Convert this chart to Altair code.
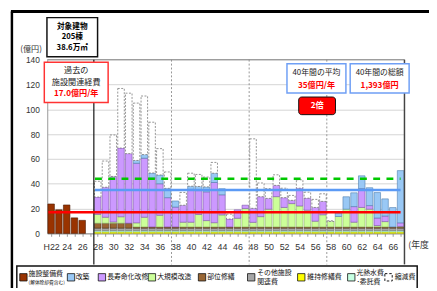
import altair as alt
import pandas as pd

# ---------------- data (億円) ----------------
years = list(range(22, 68))          # H22 .. H67
pad = [0.0] * 6                      # H22..H27 have no projection components

facility = [23.7, 19.0, 22.9, 12.5, 10.5, 0.0] + [0.0] * 40          # 施設整備費
rebuild = pad + [0, 0, 0, 0, 0, 2.3, 2.9, 4.1, 7.1, 7.5,
                 4.9, 0, 2.5, 3.3, 4.0, 7.5, 4.9, 0, 0, 0,
                 0, 0, 0, 0, 0, 0, 0, 0, 0, 0,
                 0, 2.8, 10.0, 11.1, 10.3, 14.4, 20.5, 13.8, 15.6, 42.1]  # 改築
longlife = pad + [14.0, 24.2, 36.7, 55.4, 56.1, 48.0, 47.6, 39.4, 25.4, 23.6,
                  16.0, 13.7, 26.5, 19.3, 23.2, 32.4, 16.2, 6.4, 6.8, 2.7,
                  11.3, 16.1, 8.7, 9.1, 7.9, 2.6, 14.3, 9.7, 11.1, 10.8,
                  0, 0, 0, 12.6, 15.2, 2.9, 6.1, 4.5, 0, 2.9]             # 長寿命化改修
major = pad + [7.1, 4.8, 1.0, 5.2, 0.0, 3.3, 7.8, 0.0, 9.4, 0.0,
               0.0, 3.8, 3.8, 10.0, 5.1, 3.4, 9.7, 0.0, 7.0, 14.8,
               3.7, 8.3, 14.3, 24.4, 15.7, 18.8, 16.9, 13.5, 4.6, 9.8,
               4.4, 8.4, 14.3, 3.8, 15.7, 14.3, 1.1, 4.3, 0.0, 0.4]       # 大規模改造
partial = pad + [4.0] * 5 + [1.0] * 35                                  # 部位修繕
other = pad + [2.0] * 40                                                # その他施設関連費
upkeep = pad + [1.2] * 40                                               # 維持修繕費
utility = pad + [1.0] * 40                                              # 光熱水費・委託費
reduced = pad + [12.7, 21.1, 33.4, 48.0, 48.7, 46.2, 47.2, 40.9, 21.2, 13.2,
                 0, 10.3, 10.5, 9.7, 7.9, 8.7, 0, 3.9, 0, 0,
                 56.0, 11.0, 7.9, 8.5, 7.6, 4.0, 6.8, 4.8, 6.5, 6.1,
                 0.6, 0, 0, 0, 0, 0, 0, 0, 0, 0]                        # 縮減費

series_names = ["維持修繕費", "光熱水費・委託費", "その他施設関連費", "部位修繕",
                "施設整備費", "大規模改造", "長寿命化改修", "改築", "縮減費"]
series_values = [upkeep, utility, other, partial, facility, major, longlife, rebuild, reduced]

ref_names = ["過去の平均", "40年間の平均", "縮減前の平均"]
ref_levels = [17.0, 35.0, 44.0]
ref_start = [22, 28, 28]
ref_end = [67, 67, 67]

period_breaks = [27.5, 37.5, 47.5, 57.5]

# ---------------- styles ----------------
fills = {"施設整備費": "#993300", "改築": "#99c8f5", "長寿命化改修": "#cc99ff",
         "大規模改造": "#ccff99", "部位修繕": "#996633", "その他施設関連費": "#a6a6a6",
         "維持修繕費": "#ffff00", "光熱水費・委託費": "#c6ffe2", "縮減費": "#ffffff"}
strokes = {"施設整備費": "#4d1a00", "改築": "#4f7fae", "長寿命化改修": "#7d55a8",
           "大規模改造": "#8fb36b", "部位修繕": "#4a2f14", "その他施設関連費": "#707070",
           "維持修繕費": "#b3b300", "光熱水費・委託費": "#7cc7a0", "縮減費": "#888888"}

JP = "Noto Sans CJK JP"
NUM = "Liberation Sans"

rows = []
for order, (name, vals) in enumerate(zip(series_names, series_values)):
    for yr, v in zip(years, vals):
        if v > 0:
            rows.append({"year": yr, "series": name, "value": v, "ord": order})
df = pd.DataFrame(rows)

xscale = alt.Scale(domain=[21.5, 67.5], nice=False, zero=False)
yscale = alt.Scale(domain=[0, 140], nice=False)

x_axis = alt.Axis(values=years, title=None, grid=False, tickSize=3, tickColor="#999999",
                  domainColor="#888888", labelPadding=6, labelFont=NUM, labelFontSize=9,
                  labelColor="#333333", labelOverlap=False, labelFlush=False,
                  labelExpr="datum.value == 22 ? 'H22' : (datum.value % 2 == 0 ? '' + datum.value : '')")
y_axis = alt.Axis(values=list(range(0, 141, 20)), title=None, grid=True, gridColor="#d4d4d4",
                  ticks=False, domainColor="#999999", labelPadding=8, labelFont=NUM,
                  labelFontSize=8.5, labelColor="#333333")


def X(field):
    return alt.X(field, scale=xscale, axis=x_axis)


def Y(field):
    return alt.Y(field, scale=yscale, axis=y_axis)


stacked = (alt.Chart(df)
           .transform_stack(stack="value", groupby=["year"], as_=["y0", "y1"],
                            sort=[alt.SortField("ord", order="ascending")])
           .transform_calculate(xa="datum.year - 0.42", xb="datum.year + 0.42"))

bars = stacked.transform_filter("datum.series != '縮減費'").mark_bar(strokeWidth=0.6).encode(
    x=X("xa:Q"), x2="xb:Q", y=Y("y0:Q"), y2="y1:Q",
    fill=alt.Fill("series:N", scale=alt.Scale(domain=list(fills), range=list(fills.values())), legend=None),
    stroke=alt.Stroke("series:N", scale=alt.Scale(domain=list(strokes), range=list(strokes.values())), legend=None),
)
dashed = stacked.transform_filter("datum.series == '縮減費'").mark_bar(
    fill="white", stroke="#7a7a7a", strokeWidth=0.8, strokeDash=[2, 1.5]).encode(
    x=X("xa:Q"), x2="xb:Q", y=Y("y0:Q"), y2="y1:Q")

# frame of the plot and period separators
sep_df = pd.DataFrame({"x": period_breaks, "kind": ["solid", "dot", "dot", "dot"],
                       "top": [140] * 4, "bottom": [-25] * 4})
sep_solid = alt.Chart(sep_df).transform_filter("datum.kind == 'solid'").mark_rule(
    color="#111111", strokeWidth=1.2).encode(x=X("x:Q"), y=Y("top:Q"), y2="bottom:Q")
sep_dot = alt.Chart(sep_df).transform_filter("datum.kind == 'dot'").mark_rule(
    color="#8a8a8a", strokeWidth=0.9, strokeDash=[2, 2]).encode(x=X("x:Q"), y=Y("top:Q"), y2="bottom:Q")
edge_df = pd.DataFrame({"x0": [21.5], "x1": [67.5], "top": [140], "bottom": [-25]})
right_edge = alt.Chart(edge_df).mark_rule(color="#444444", strokeWidth=1.5).encode(
    x=X("x1:Q"), y=Y("top:Q"), y2="bottom:Q")
top_edge = alt.Chart(edge_df).mark_rule(color="#8a8a8a", strokeWidth=1).encode(
    x=X("x0:Q"), x2="x1:Q", y=Y("top:Q"))

# reference lines
ref_df = pd.DataFrame({"name": ref_names, "level": ref_levels, "s": ref_start, "e": ref_end})
ref_base = alt.Chart(ref_df).transform_calculate(xs="datum.s - 0.35", xe="datum.e")
red_line = ref_base.transform_filter("datum.name == '過去の平均'").mark_rule(
    color="#ff0000", strokeWidth=2.6).encode(x=X("xs:Q"), x2="xe:Q", y=Y("level:Q"))
blue_line = ref_base.transform_filter("datum.name == '40年間の平均'").mark_rule(
    color="#5b9af5", strokeWidth=2.6).encode(x=X("xs:Q"), x2="xe:Q", y=Y("level:Q"))
green_line = ref_base.transform_filter("datum.name == '縮減前の平均'").mark_rule(
    color="#00c800", strokeWidth=2.6, strokeDash=[7, 6.5]).encode(x=X("xs:Q"), x2="xe:Q", y=Y("level:Q"))

# annotation boxes (data coordinates)
box_df = pd.DataFrame({
    "x1": [21.46, 21.12, 52.37, 60.51],
    "x2": [27.98, 29.34, 59.96, 68.10],
    "y1": [173.9, 137.9, 136.8, 136.8],
    "y2": [142.4, 105.4, 113.1, 113.1],
    "sc": ["#111111", "#ff3333", "#6f9ff5", "#6f9ff5"],
})
boxes = alt.Chart(box_df).mark_rect(fill="white", strokeWidth=1.5).encode(
    x=X("x1:Q"), x2="x2:Q", y=Y("y1:Q"), y2="y2:Q", stroke=alt.Stroke("sc:N", scale=None))
twice_df = pd.DataFrame({"x1": [53.88], "x2": [58.62], "y1": [109.9], "y2": [95.7]})
twice_box = alt.Chart(twice_df).mark_rect(fill="#ff0000", stroke="#111111", strokeWidth=1,
                                          cornerRadius=3).encode(
    x=X("x1:Q"), x2="x2:Q", y=Y("y1:Q"), y2="y2:Q")

txt_df = pd.DataFrame([
    {"x": 24.72, "y": 166.3, "t": "対象建物", "c": "#000000", "s": 7.8, "w": "bold"},
    {"x": 24.72, "y": 157.9, "t": "205棟", "c": "#000000", "s": 7.8, "w": "bold"},
    {"x": 24.72, "y": 149.1, "t": "38.6万㎡", "c": "#000000", "s": 7.8, "w": "bold"},
    {"x": 25.23, "y": 130.5, "t": "過去の", "c": "#222222", "s": 8.3, "w": "normal"},
    {"x": 25.23, "y": 121.3, "t": "施設関連経費", "c": "#222222", "s": 8.3, "w": "normal"},
    {"x": 25.23, "y": 112.6, "t": "17.0億円/年", "c": "#ff0000", "s": 8.3, "w": "bold"},
    {"x": 56.17, "y": 129.2, "t": "40年間の平均", "c": "#222222", "s": 8, "w": "normal"},
    {"x": 56.17, "y": 118.4, "t": "35億円/年", "c": "#ff0000", "s": 8.3, "w": "bold"},
    {"x": 64.30, "y": 129.2, "t": "40年間の総額", "c": "#222222", "s": 8, "w": "normal"},
    {"x": 64.30, "y": 118.4, "t": "1,393億円", "c": "#ff0000", "s": 8.3, "w": "bold"},
    {"x": 56.25, "y": 102.8, "t": "2倍", "c": "#ffffff", "s": 8.3, "w": "bold"},
    {"x": 19.41, "y": 147.9, "t": "(億円)", "c": "#333333", "s": 8.3, "w": "normal"},
    {"x": 67.99, "y": -9.5, "t": "(年度)", "c": "#333333", "s": 9, "w": "left"},
])


def text_layer(weight):
    return alt.Chart(txt_df).transform_filter(f"datum.w == '{weight}'").mark_text(
        font=JP, fontWeight=weight, baseline="middle", align="center").encode(
        x=X("x:Q"), y=Y("y:Q"), text="t:N",
        color=alt.Color("c:N", scale=None), size=alt.Size("s:Q", scale=None))


txt_norm = text_layer("normal")
txt_bold = text_layer("bold")
year_unit = alt.Chart(txt_df).transform_filter("datum.w == 'left'").mark_text(
    font=JP, align="left", baseline="middle").encode(
    x=X("x:Q"), y=Y("y:Q"), text="t:N",
    color=alt.Color("c:N", scale=None), size=alt.Size("s:Q", scale=None))

# ---------------- custom legend (placed below the plot, in axis units) ----------------
leg_names = ["施設整備費", "改築", "長寿命化改修", "大規模改造", "部位修繕",
             "その他施設関連費", "維持修繕費", "光熱水費・委託費"]
leg_sx = [18.43, 24.56, 28.54, 34.98, 41.43, 47.76, 54.21, 60.65]
sw_df = pd.DataFrame({"sx": leg_sx, "sy": [-35.4] * 8, "fc": [fills[n] for n in leg_names]})
swatches = alt.Chart(sw_df).mark_square(size=56, stroke="#111111", strokeWidth=0.8, opacity=1).encode(
    x=X("sx:Q"), y=Y("sy:Q"), fill=alt.Fill("fc:N", scale=None))
sw_dash = alt.Chart(pd.DataFrame({"sx": [65.45], "sy": [-35.4]})).mark_square(
    size=56, fill="white", stroke="#111111", strokeWidth=1, strokeDash=[2.5, 2], opacity=1).encode(
    x=X("sx:Q"), y=Y("sy:Q"))
lab_df = pd.DataFrame([
    {"lx": 19.10, "ly": -32.8, "t": "施設整備費", "s": 7},
    {"lx": 19.10, "ly": -40.0, "t": "(解体除却費含む)", "s": 4.8},
    {"lx": 25.16, "ly": -35.4, "t": "改築", "s": 7},
    {"lx": 29.21, "ly": -35.4, "t": "長寿命化改修", "s": 7},
    {"lx": 35.65, "ly": -35.4, "t": "大規模改造", "s": 7},
    {"lx": 42.10, "ly": -35.4, "t": "部位修繕", "s": 7},
    {"lx": 48.54, "ly": -31.8, "t": "その他施設", "s": 7},
    {"lx": 48.54, "ly": -39.6, "t": "関連費", "s": 7},
    {"lx": 54.99, "ly": -35.4, "t": "維持修繕費", "s": 7},
    {"lx": 61.31, "ly": -31.8, "t": "光熱水費", "s": 7},
    {"lx": 61.31, "ly": -39.6, "t": "･委託費", "s": 7},
    {"lx": 66.24, "ly": -35.4, "t": "縮減費", "s": 7},
])
leg_text = alt.Chart(lab_df).mark_text(font=JP, align="left", baseline="middle", color="#111111").encode(
    x=X("lx:Q"), y=Y("ly:Q"), text="t:N", size=alt.Size("s:Q", scale=None))
frame_df = pd.DataFrame({"lx0": [17.58], "lx1": [69.14], "ly0": [-26.3], "ly1": [-51.0],
                         "fx0": [16.82], "fx1": [71.0], "fy0": [178.8], "fy1": [-51.0],
                         "fxl": [16.95]})
leg_box = alt.Chart(frame_df).mark_rect(fillOpacity=0, stroke="#111111", strokeWidth=1.5).encode(
    x=X("lx0:Q"), x2="lx1:Q", y=Y("ly0:Q"), y2="ly1:Q")

# outer page frame
outer_top = alt.Chart(frame_df).mark_rule(color="#000000", strokeWidth=3).encode(
    x=X("fx0:Q"), x2="fx1:Q", y=Y("fy0:Q"))
outer_left = alt.Chart(frame_df).mark_rule(color="#000000", strokeWidth=2.5).encode(
    x=X("fxl:Q"), y=Y("fy0:Q"), y2="fy1:Q")

chart = alt.layer(
    bars, top_edge, dashed, sep_dot, sep_solid, right_edge,
    red_line, blue_line, green_line,
    boxes, twice_box, txt_norm, txt_bold, year_unit,
    leg_box, swatches, sw_dash, leg_text, outer_top, outer_left,
).properties(
    width=364, height=177,
    padding={"left": 40, "top": 50, "right": 25, "bottom": 53},
    autosize=alt.AutoSizeParams(type="none"),
).configure(background="white").configure_view(stroke=None)

chart.save("out.html", embed_options={"renderer": "svg", "actions": False})
